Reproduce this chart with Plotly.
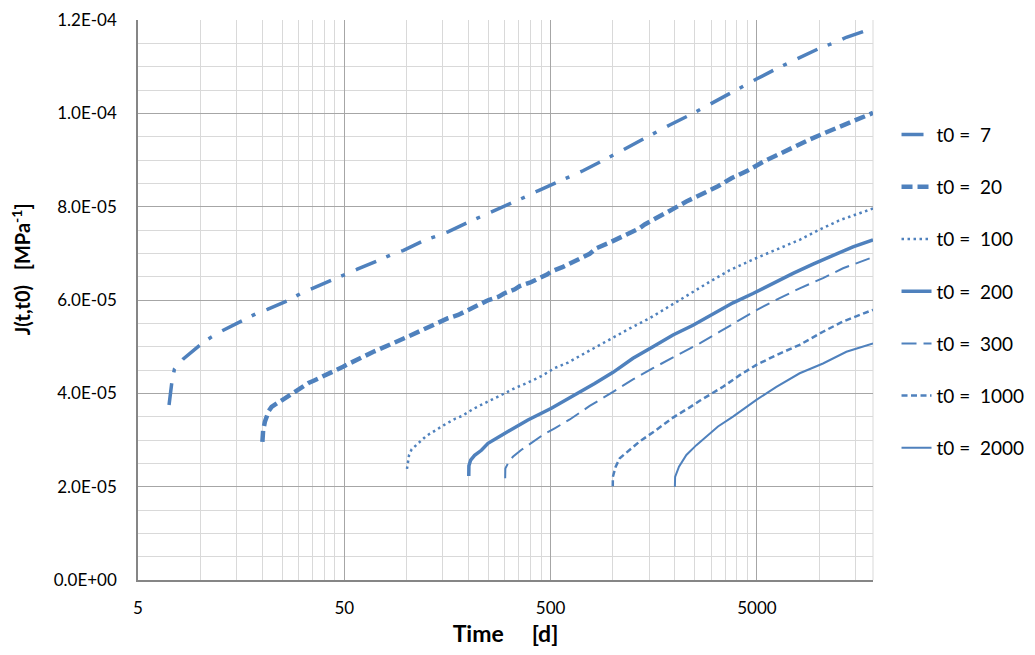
import math
import plotly.graph_objects as go

# ---------------- data (J in units of 1E-05 MPa^-1, t in days) ----------------
T7 = [7.07, 7.3, 7.51, 8.26, 10.15, 11.36, 12.8, 16.45, 18.55, 21.2, 26.97, 30.73, 35.0, 44.9, 50.8,
      57.8, 74.2, 84.5, 96.3, 122.6, 139.7, 159, 202.6, 230.8, 262.7, 334.7, 381.5, 434, 559.4, 717,
      907, 1029, 1165, 1493, 1675, 1888, 2405, 2719, 3060, 3899, 4409, 5000, 6372, 7204, 8210,
      10445, 11900, 13560, 17590, 18250]
J7 = [3.75, 4.25, 4.52, 4.73, 5.06, 5.21, 5.34, 5.57, 5.70, 5.80, 6.00, 6.14, 6.25, 6.45, 6.56,
      6.66, 6.86, 6.97, 7.06, 7.28, 7.37, 7.46, 7.68, 7.79, 7.89, 8.11, 8.22, 8.34, 8.55, 8.77,
      9.00, 9.13, 9.25, 9.50, 9.62, 9.75, 9.98, 10.11, 10.23, 10.49, 10.61, 10.74, 10.98, 11.09, 11.21,
      11.43, 11.51, 11.63, 11.80, 11.81]

T20 = [20.04, 20.2, 20.6, 21.0, 21.5, 22.2, 24.2, 25.6, 28.7, 30.3, 33.5, 35.5, 39.4, 41.6, 46.4,
       49.3, 52.9, 70, 100, 130, 159, 178, 199, 210, 235, 250, 280, 297, 335, 354,
       396, 426, 477, 504, 574, 773, 833, 966, 1208, 1351, 1428, 1597, 1888, 2034, 2274,
       2689, 3214, 3758, 4492, 5347, 6322, 7557, 9006, 10645, 12726, 15164, 18250]
J20 = [2.96, 3.20, 3.39, 3.50, 3.62, 3.71, 3.82, 3.89, 4.04, 4.11, 4.22, 4.27, 4.36, 4.41, 4.50,
       4.57, 4.64, 4.90, 5.20, 5.43, 5.61, 5.68, 5.79, 5.84, 5.96, 6.00, 6.07, 6.14, 6.23, 6.30,
       6.37, 6.43, 6.54, 6.61, 6.71, 6.99, 7.11, 7.23, 7.44, 7.54, 7.62, 7.73, 7.91, 7.99, 8.11,
       8.27, 8.43, 8.61, 8.77, 8.96, 9.12, 9.27, 9.44, 9.58, 9.73, 9.87, 10.01]

T100 = [100.6, 101.4, 103, 106, 112, 118, 125, 133, 142, 152, 162, 173, 185, 197, 210,
        225, 241, 258, 278, 299, 335, 388, 451, 523, 607, 705, 802, 966, 1208, 1510,
        1888, 2360, 2950, 3688, 4610, 5154, 6441, 8054, 10067, 12583, 15735, 18250]
J100 = [2.38, 2.52, 2.68, 2.80, 2.90, 2.99, 3.09, 3.16, 3.23, 3.32, 3.39, 3.46, 3.51, 3.59, 3.66,
        3.73, 3.79, 3.86, 3.93, 4.00, 4.11, 4.23, 4.37, 4.54, 4.66, 4.82, 4.96, 5.16, 5.39, 5.61,
        5.87, 6.14, 6.39, 6.64, 6.84, 6.93, 7.11, 7.29, 7.51, 7.71, 7.86, 7.96]

T200 = [200.5, 200.8, 204.8, 214, 230.8, 248.5, 299, 388, 504, 654, 817, 1003, 1253, 1566, 1958,
        2448, 3060, 3826, 4782, 5978, 7475, 9343, 11675, 14600, 18250]
J200 = [2.23, 2.45, 2.57, 2.67, 2.78, 2.93, 3.14, 3.43, 3.68, 3.96, 4.21, 4.45, 4.75, 5.00, 5.25,
        5.46, 5.71, 5.94, 6.14, 6.36, 6.57, 6.77, 6.96, 7.14, 7.29]

T300 = [301, 301.5, 310.6, 328, 361, 403, 459, 523, 619, 705, 773, 1003, 1253, 1566, 2034,
        2638, 3298, 4124, 5000, 6441, 8054, 10445, 13060, 18250]
J300 = [2.18, 2.39, 2.50, 2.64, 2.79, 2.93, 3.11, 3.25, 3.44, 3.61, 3.73, 4.03, 4.30, 4.54, 4.80,
        5.07, 5.32, 5.57, 5.79, 6.04, 6.25, 6.47, 6.68, 6.92]

T1000 = [1000, 1001, 1033, 1081, 1165, 1351, 1597, 1958, 2360, 2638, 3421, 4124, 4967, 6209, 8054,
         10445, 13060, 18250]
J1000 = [2.01, 2.21, 2.43, 2.61, 2.73, 2.97, 3.19, 3.48, 3.70, 3.84, 4.14, 4.39, 4.61, 4.82, 5.04,
         5.32, 5.54, 5.79]

T2000 = [2000, 2005, 2094, 2274, 2542, 2843, 3236, 3826, 4444, 4967, 6209, 8054, 10445, 13560, 18250]
J2000 = [2.00, 2.21, 2.43, 2.68, 2.89, 3.07, 3.29, 3.50, 3.71, 3.86, 4.14, 4.43, 4.64, 4.89, 5.07]

J_UNIT = 1e-5
LABELS = ["t0 =  7", "t0 =  20", "t0 =  100", "t0 =  200", "t0 =  300", "t0 =  1000", "t0 =  2000"]

X_TICKS = [5, 50, 500, 5000]
X_MINOR = [10, 15, 20, 25, 30, 35, 40, 45,
           100, 150, 200, 250, 300, 350, 400, 450,
           1000, 1500, 2000, 2500, 3000, 3500, 4000, 4500,
           10000, 15000]
X_MAX = 18250
Y_TICKS = [0, 2e-5, 4e-5, 6e-5, 8e-5, 1.0e-4, 1.2e-4]

# ---------------- figure ----------------
BLUE = "#4F81BD"
FONT = "Lato, 'Open Sans', sans-serif"
NB = "\u00a0"
ZW = "\u200b"

styles = [
    dict(width=3.5, dash="22px,11px,4px,12px"),
    dict(width=4.5, dash="11px,5px"),
    dict(width=2.5, dash="2.5px,3.5px"),
    dict(width=3.5),
    dict(width=2, dash="15px,7px"),
    dict(width=2.5, dash="6px,3.5px"),
    dict(width=2),
]
data = [(T7, J7), (T20, J20), (T100, J100), (T200, J200), (T300, J300), (T1000, J1000), (T2000, J2000)]

fig = go.Figure()
for i, ((t, j), lab, st) in enumerate(zip(data, LABELS, styles)):
    fig.add_trace(go.Scatter(
        x=t, y=[v * J_UNIT for v in j], mode="lines",
        name=lab.replace(" ", NB), legendgroup=f"g{i}",
        line=dict(color=BLUE, **st),
    ))

# the page body adds an 8px margin on every side; size and margins compensate
fig.update_layout(
    width=1019, height=639, autosize=False,
    margin=dict(l=130, r=154, t=12, b=67, autoexpand=False),
    paper_bgcolor="white", plot_bgcolor="white",
    font=dict(family=FONT, color="#000000", size=17),
    showlegend=True,
    legend=dict(x=1.032, y=0.829, xanchor="left", yanchor="top",
                font=dict(size=19, family=FONT), tracegroupgap=24.5,
                bgcolor="rgba(0,0,0,0)"),
)

fig.update_xaxes(
    type="log", range=[math.log10(5), math.log10(X_MAX)],
    tickmode="array", tickvals=X_TICKS, ticktext=[str(v) for v in X_TICKS],
    showgrid=True, gridcolor="#A6A6A6", gridwidth=1,
    minor=dict(tickmode="array", tickvals=X_MINOR, showgrid=True, gridcolor="#D9D9D9", gridwidth=1, ticks=""),
    showline=True, linecolor="#868686", linewidth=1.5,
    ticks="", ticklabelstandoff=12, zeroline=False, automargin=False,
    tickfont=dict(size=17),
    title=dict(text="<b>Time" + NB * 5 + "[d]</b>", font=dict(size=23), standoff=20),
)
fig.update_yaxes(
    range=[0, 1.2e-4],
    tickmode="array", tickvals=Y_TICKS, ticktext=[f"{v:.1E}" for v in Y_TICKS],
    showgrid=True, gridcolor="#A6A6A6", gridwidth=1,
    minor=dict(dtick=5e-6, showgrid=True, gridcolor="#D9D9D9", gridwidth=1, ticks=""),
    showline=True, linecolor="#868686", linewidth=1.5,
    ticks="", ticklabelstandoff=16, zeroline=False, automargin=False,
    tickfont=dict(size=17),
    title=dict(text=ZW + NB * 12 + "<b>J(t,t0)" + NB * 3 + "[MPa<sup>-1</sup>]</b>",
               font=dict(size=20), standoff=20),
)
# plot-area right border
fig.add_shape(type="line", xref="paper", yref="paper", x0=1, x1=1, y0=0, y1=1,
              line=dict(color="#D9D9D9", width=1), layer="below")

fig.write_html("out.html")
